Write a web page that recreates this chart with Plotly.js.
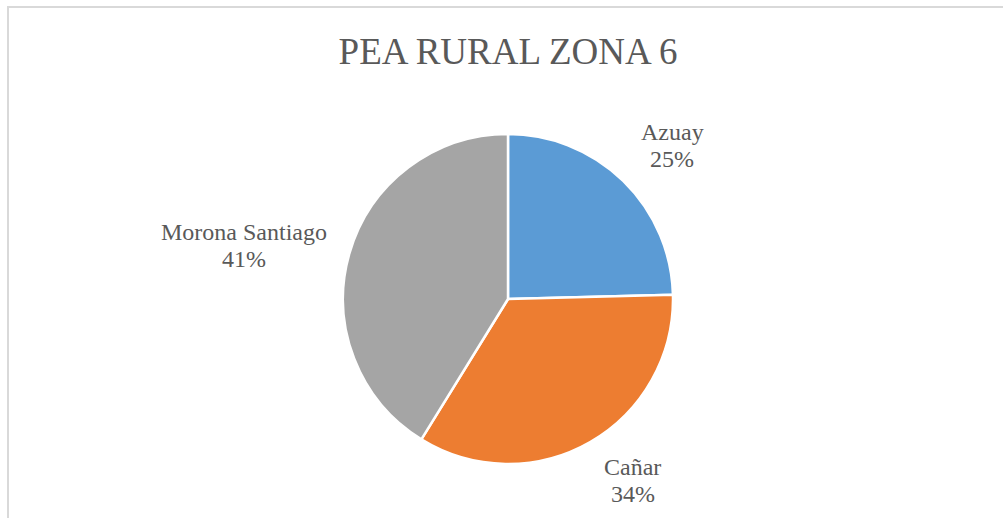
<!DOCTYPE html>
<html>
<head>
<meta charset="utf-8">
<script src="https://cdn.plot.ly/plotly-3.0.1.min.js"></script>
<style>
  html, body { margin:0; padding:0; background:#ffffff; overflow:hidden; width:1003px; height:518px; }
  #chart { position:absolute; left:0; top:0; width:1003px; height:518px; }
  #frame { position:absolute; left:7px; top:6px; width:1100px; height:700px;
           border:2px solid #d9d9d9; box-sizing:border-box; pointer-events:none; z-index:5; }
</style>
</head>
<body>
<div id="chart"></div>
<div id="frame"></div>
<script>
// ---- data ----
const categories = ['Azuay', 'Cañar', 'Morona Santiago'];
const values = [24.6, 34.2, 41.2];
const sliceColors = ['#5B9BD5', '#ED7D31', '#A5A5A5'];
const chartTitle = 'PEA RURAL ZONA 6';

// ---- layout geometry ----
const W = 1003, H = 518;
const PIE_CX = 508, PIE_CY = 299, PIE_R = 165;
const LABEL_GAP = 18;
const LABEL_PAD = 5;
const LABEL_SIZE = 24;
const LINE_STEP = 27;
const FONT = 'Liberation Serif';
const TEXT_COLOR = '#595959';

const domain = {
  x: [(PIE_CX - PIE_R) / W, (PIE_CX + PIE_R) / W],
  y: [1 - (PIE_CY + PIE_R) / H, 1 - (PIE_CY - PIE_R) / H]
};

const total = values.reduce((a, b) => a + b, 0);
const percentTexts = values.map(v => Math.round(v / total * 100) + '%');

// measure text widths
const cnv = document.createElement('canvas');
const ctx = cnv.getContext('2d');
ctx.font = LABEL_SIZE + 'px "Liberation Serif"';

const annotations = [];
let cum = 0;
categories.forEach((c, i) => {
  const frac = values[i] / total;
  const mid = cum + frac / 2;
  cum += frac;
  const th = 2 * Math.PI * mid;
  const ux = Math.sin(th), uy = -Math.cos(th);   // screen coords (y down)
  const lines = [c, percentTexts[i]];
  const w = Math.max(...lines.map(l => ctx.measureText(l).width));
  const h = lines.length * LINE_STEP;
  const rr = PIE_R + LABEL_GAP;
  const yFactor = Math.min(1, Math.pow(Math.abs(uy) / 0.7, 2));
  const cx = PIE_CX + rr * ux + Math.sign(ux) * (w / 2 + LABEL_PAD);
  const cy = PIE_CY + rr * uy + Math.sign(uy) * 0.85 * (h / 2) * yFactor;
  lines.forEach((t, k) => {
    const ly = cy + (k - (lines.length - 1) / 2) * LINE_STEP;
    annotations.push({
      xref: 'paper', yref: 'paper',
      x: cx / W, y: 1 - ly / H,
      xanchor: 'center', yanchor: 'middle',
      text: t, showarrow: false, align: 'center',
      font: { family: FONT, size: LABEL_SIZE, color: TEXT_COLOR }
    });
  });
});

const trace = {
  type: 'pie',
  labels: categories,
  values: values,
  sort: false,
  direction: 'clockwise',
  rotation: 0,
  textinfo: 'none',
  hoverinfo: 'label+percent',
  marker: { colors: sliceColors, line: { color: '#ffffff', width: 2.5 } },
  domain: domain,
  showlegend: false
};

const layout = {
  width: W, height: H, autosize: false,
  margin: { l: 0, r: 0, t: 0, b: 0, pad: 0 },
  paper_bgcolor: 'rgba(0,0,0,0)',
  plot_bgcolor: 'rgba(0,0,0,0)',
  showlegend: false,
  title: {
    text: chartTitle,
    font: { family: FONT, size: 37, color: TEXT_COLOR },
    xref: 'paper', yref: 'paper',
    x: PIE_CX / W, xanchor: 'center',
    y: 1 - 51 / H, yanchor: 'middle'
  },
  annotations: annotations
};

Plotly.newPlot('chart', [trace], layout, { displayModeBar: false, staticPlot: true });
</script>
</body>
</html>
